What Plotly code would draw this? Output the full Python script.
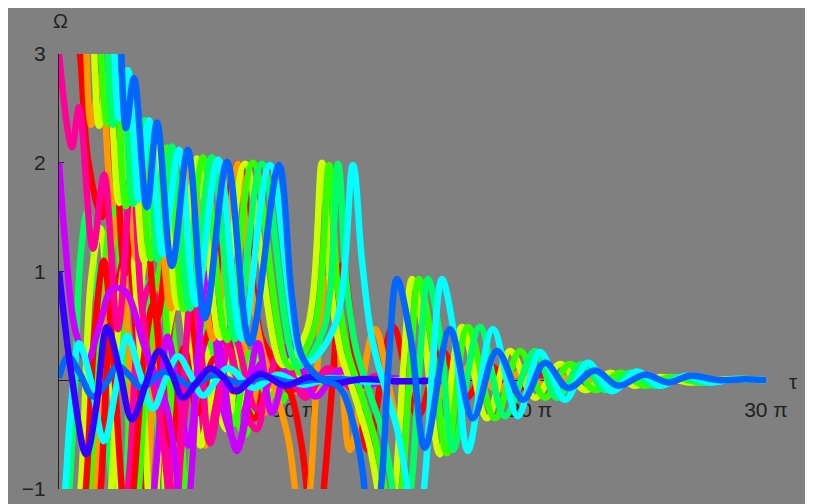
import plotly.graph_objects as go

# tau values are in units of pi; Omega in plain units
blue_a_tau = [1.95, 2.16, 2.46, 2.84, 3.18, 3.73, 4.16, 4.79, 5.47, 6.19, 7.13, 8.10, 9.33, 9.89, 10.35, 11.07, 11.92, 12.43, 12.86, 13.28, 13.70, 14.0, 14.34, 14.93, 15.53, 16.59, 17.56, 18.58, 19.69, 20.62, 21.6, 22.74, 23.72, 24.86, 25.84, 26.77, 28.04, 29.1, 30.0]
blue_a_om = [4.86, 3.21, 3.76, 2.32, 2.78, 1.59, 2.37, 1.05, 2.12, 0.57, 2.01, 0.34, 1.98, 0.75, 0.2, 0.02, -0.07, -0.35, -0.8, -1.63, -0.9, 0.2, 0.93, 0.38, -0.62, 0.47, -0.35, 0.27, -0.18, 0.16, -0.07, 0.09, -0.05, 0.05, -0.02, 0.04, 0.0, 0.01, 0.0]

cyan_a_tau = [1.65, 1.91, 2.16, 2.55, 2.93, 3.39, 3.82, 4.41, 5.09, 5.81, 6.75, 7.76, 8.95, 10.44, 11.7, 12.47, 12.85, 13.28, 13.83, 14.34, 14.72, 15.1, 15.53, 15.87, 16.25, 16.8, 17.35, 18.41, 19.47, 20.41, 21.47, 22.44, 23.46, 24.52, 25.5, 26.56, 27.62, 28.68, 30.0]
cyan_a_om = [4.58, 3.31, 3.67, 2.41, 2.85, 1.66, 2.39, 1.16, 2.12, 0.70, 2.03, 0.38, 1.98, 0.16, 0.5, 1.98, 1.11, 0.38, -0.07, -0.44, -0.9, -1.63, -0.9, 0.2, 0.93, 0.38, -0.65, 0.47, -0.33, 0.26, -0.18, 0.16, -0.1, 0.08, -0.05, 0.04, -0.02, 0.01, 0.0]

spring_a_tau = [1.40, 1.65, 1.91, 2.29, 2.67, 3.14, 3.65, 4.20, 4.79, 5.56, 6.49, 7.47, 8.61, 10.14, 11.2, 11.84, 12.18, 12.6, 13.19, 13.79, 14.21, 14.55, 14.98, 15.32, 15.66, 16.21, 16.72, 17.86, 18.92, 20.2, 21.13, 22.19, 23.17, 24.23, 25.29, 26.35, 27.41, 28.68, 30.0]
spring_a_om = [4.40, 3.12, 3.58, 2.35, 2.80, 1.62, 2.39, 1.11, 2.15, 0.66, 2.05, 0.38, 1.99, 0.13, 0.45, 1.99, 0.93, 0.29, -0.12, -0.53, -1.08, -1.63, -0.9, 0.2, 0.93, 0.34, -0.64, 0.49, -0.33, 0.27, -0.16, 0.15, -0.09, 0.07, -0.05, 0.03, -0.02, 0.01, 0.0]

green_a_tau = [1.06, 1.27, 1.57, 2.04, 2.38, 2.84, 3.35, 3.90, 4.58, 5.30, 6.11, 7.13, 8.23, 9.80, 10.8, 11.46, 11.79, 12.22, 12.86, 13.45, 13.87, 14.21, 14.59, 14.93, 15.27, 15.83, 16.46, 17.35, 18.5, 19.56, 20.62, 21.68, 22.74, 23.8, 24.86, 25.92, 27.2, 28.68, 30.0]
green_a_om = [4.3, 3.1, 3.55, 2.36, 2.79, 1.6, 2.40, 1.12, 2.14, 0.65, 2.05, 0.37, 2.0, 0.12, 0.45, 1.98, 0.93, 0.29, -0.15, -0.58, -1.08, -1.63, -0.9, 0.2, 0.93, 0.34, -0.67, 0.49, -0.35, 0.27, -0.16, 0.15, -0.09, 0.07, -0.05, 0.03, -0.02, 0.01, 0.0]

yg_a_tau = [0.76, 1.02, 1.32, 1.70, 2.08, 2.55, 3.05, 3.61, 4.29, 5.05, 5.85, 6.83, 7.89, 9.50, 10.5, 11.16, 11.50, 11.92, 12.56, 13.15, 13.58, 13.92, 14.30, 14.64, 14.98, 15.53, 16.16, 17.10, 18.16, 19.13, 20.2, 21.26, 22.32, 23.38, 24.44, 25.5, 26.77, 28.47, 30.0]
yg_a_om = [4.45, 3.14, 3.6, 2.34, 2.81, 1.63, 2.38, 1.1, 2.16, 0.67, 2.04, 0.39, 1.99, 0.14, 0.45, 2.0, 0.93, 0.29, -0.15, -0.58, -1.08, -1.63, -0.9, 0.2, 0.93, 0.34, -0.68, 0.49, -0.35, 0.27, -0.16, 0.15, -0.09, 0.07, -0.05, 0.03, -0.02, 0.01, 0.0]

orange_a_tau = [0.47, 0.72, 1.02, 1.36, 1.78, 2.25, 2.76, 3.31, 3.99, 4.75, 5.56, 6.53, 7.59, 8.10, 8.61, 9.21, 9.72, 10.06, 10.35, 10.69, 10.99, 11.33, 11.88, 12.35, 13.41, 14.43, 15.49, 16.5, 17.52, 18.58, 19.56, 20.62, 21.68, 22.95, 24.65, 26.77]
orange_a_om = [4.4, 3.1, 3.57, 2.35, 2.8, 1.62, 2.39, 1.11, 2.15, 0.66, 2.05, 0.38, 1.99, 0.93, 0.29, -0.12, -0.53, -1.08, -1.63, -0.9, 0.2, 0.93, 0.34, -0.64, 0.47, -0.35, 0.27, -0.18, 0.15, -0.09, 0.07, -0.05, 0.03, -0.02, 0.01, 0.0]

red_a_tau = [0.04, 0.47, 0.89, 1.23, 1.82, 2.29, 2.80, 3.44, 4.16, 5.05, 6.11, 7.59, 8.61, 9.38, 9.89, 10.31, 10.65, 10.9, 11.2, 11.62, 12.05, 12.56, 13.11, 14.17, 15.23, 16.25, 17.27, 18.29, 19.35, 20.41, 21.47, 22.74, 24.65, 27.2]
red_a_om = [4.86, 3.67, 3.0, 2.03, 1.50, 2.39, 0.98, 2.15, 0.57, 2.05, 0.34, 1.99, 0.38, 0.11, -0.16, -0.62, -1.26, -1.63, -1.08, 0.02, 1.07, 0.2, -0.64, 0.49, -0.33, 0.27, -0.16, 0.13, -0.09, 0.05, -0.04, 0.02, -0.01, 0.0]

pink_tau = [0, 0.55, 0.85, 1.44, 1.91, 2.50, 3.10, 3.48, 3.86, 4.29, 4.58, 4.79, 5.05, 5.35, 5.64, 5.98, 6.41, 7.38, 8.4, 9.42, 10.44, 11.41, 12.43, 13.45, 14.47, 15.74]
pink_om = [3.0, 2.14, 2.51, 1.21, 1.89, 0.47, 1.95, 0.75, 0.11, -0.35, -0.9, -1.63, -0.9, 0.2, 0.84, 0.38, -0.58, 0.43, -0.27, 0.25, -0.16, 0.11, -0.07, 0.04, -0.02, 0.0]

purple_tau = [0, 0.25, 0.68, 1.19, 1.74, 2.25, 2.80, 3.65, 4.58, 4.96, 5.30, 5.64, 5.98, 6.32, 6.75, 7.55, 8.44, 9.04, 9.93, 10.86, 11.92, 12.98, 14.04, 15.32, 16.59]
purple_om = [2.0, 1.30, 0.47, 0.18, 0.52, 0.84, 0.82, 0.29, -0.26, -0.8, -1.63, -0.8, 0.47, 0.98, 0.47, -0.65, 0.34, -0.30, 0.34, -0.15, 0.09, -0.05, 0.02, -0.01, 0.0]

violet_tau = [0, 0.55, 1.15, 1.57, 2.04, 2.55, 3.10, 3.69, 4.24, 4.79, 5.26, 5.81, 6.41, 6.92, 7.51, 8.53, 9.59, 10.65, 11.71, 12.77, 14.47, 16.16]
violet_om = [1.0, 0.02, -0.68, -0.26, 0.49, 0.11, -0.36, -0.03, 0.27, 0.06, -0.16, -0.03, 0.11, 0.04, -0.1, 0.06, -0.05, 0.03, -0.03, 0.01, -0.01, 0.0]

blue0_tau = [0, 0.38, 0.89, 1.44, 2.0, 2.46, 3.01, 3.48, 4.07, 4.5, 5.05, 5.56, 6.62, 7.68, 8.74, 9.80, 11.07, 12.77]
blue0_om = [0.02, 0.22, 0.06, -0.15, -0.03, 0.13, 0.04, -0.07, 0.02, 0.08, 0.02, -0.05, 0.05, -0.03, 0.03, -0.02, 0.01, 0.0]

cyan0_tau = [0, 0.08, 0.21, 0.47, 0.85, 1.32, 1.91, 2.42, 2.89, 3.44, 3.99, 4.54, 5.05, 5.60, 6.11, 7.17, 8.23, 9.29, 10.35, 11.5, 12.77, 14.47]
cyan0_om = [-1.0, -1.26, -1.12, -0.35, 0.34, 0.02, -0.56, -0.07, 0.41, 0.06, -0.26, 0.02, 0.22, 0.04, -0.14, 0.11, -0.07, 0.05, -0.04, 0.02, -0.01, 0.0]

yg_b_tau = [0.55, 0.95, 1.35, 1.75, 2.15, 2.5, 2.75, 3.0, 3.35, 3.75, 4.15, 4.5, 4.75, 5.0, 5.4, 5.9, 6.5, 7.1, 7.7, 8.3, 9.0, 9.7, 10.5, 11.5]
yg_b_om = [-1.8, -0.9, 0.9, 1.4, 0.3, -0.9, -1.7, -0.9, 0.6, 1.2, 0.2, -0.9, -1.6, -0.8, 0.3, 0.6, 0.0, -0.45, 0.35, -0.2, 0.15, -0.08, 0.04, 0.0]

green_b_tau = [1.0, 1.4, 1.8, 2.3, 2.7, 3.05, 3.3, 3.6, 4.0, 4.4, 4.8, 5.2, 5.45, 5.7, 6.1, 6.6, 7.2, 7.9, 8.6, 9.4, 10.2, 11.0, 12.0]
green_b_om = [-1.7, -0.8, 0.7, 1.6, 0.7, -0.8, -1.7, -0.7, 0.5, 1.1, 0.5, -0.5, -1.3, -0.6, 0.4, 0.7, -0.1, -0.5, 0.3, -0.2, 0.1, -0.05, 0.0]

orange_b_tau = [1.3, 1.7, 2.1, 2.5, 2.9, 3.25, 3.5, 3.8, 4.2, 4.6, 5.0, 5.5, 5.9, 6.2, 6.5, 7.0, 7.5, 8.1, 8.7, 9.4, 10.1, 11.0, 12.0]
orange_b_om = [-1.7, -0.6, 1.0, 1.5, 0.5, -0.9, -1.7, -0.8, 0.5, 1.3, 0.9, 0.5, 0.0, -0.6, -0.1, 0.3, 0.5, 0.1, -0.3, 0.15, -0.1, 0.05, 0.0]

red_b_tau = [1.5, 1.8, 2.1, 2.5, 2.9, 3.3, 3.6, 3.9, 4.3, 4.8, 5.3, 5.8, 6.2, 6.6, 7.1, 7.7, 8.3, 9.0, 9.8, 10.5, 11.5]
red_b_om = [-1.7, -0.9, 0.3, 0.9, 1.2, 0.3, -0.8, -1.6, -0.6, 0.6, 1.0, 0.3, -0.5, -0.2, 0.4, -0.1, -0.35, 0.2, -0.1, 0.05, 0.0]

pink_b_tau = [2.6, 3.0, 3.4, 3.9, 4.3, 4.65, 4.9, 5.2, 5.7, 6.2, 6.7, 7.2, 7.8, 8.4, 9.0, 9.7, 10.4, 11.2, 12.0]
pink_b_om = [-1.7, -0.8, 0.5, 0.9, 0.3, -0.6, -1.5, -0.6, 0.2, -0.5, -0.2, 0.3, -0.25, -0.45, 0.2, 0.3, -0.1, 0.05, 0.0]

spring_b_tau = [0.3, 0.65, 0.9, 1.2, 1.6, 2.0, 2.35, 2.6, 2.85, 3.2, 3.6, 4.0, 4.3, 4.6, 4.9, 5.3, 5.8, 6.2, 6.7, 7.2, 7.8, 8.5, 9.3, 10.2, 11.0]
spring_b_om = [-1.5, -0.2, 1.1, 1.55, 0.8, -0.4, -1.2, -1.7, -0.9, 0.4, 0.9, 0.2, -0.8, -1.6, -0.7, 0.2, 0.0, -0.5, 0.35, 0.6, -0.1, -0.3, 0.15, -0.05, 0.0]

yg_c_tau = [2.0, 2.3, 2.6, 3.0, 3.4, 3.7, 3.95, 4.2, 4.6, 5.1, 5.6, 6.0, 6.4, 6.9, 7.5, 8.2, 9.0, 9.9, 11.0]
yg_c_om = [-1.7, -0.7, 0.8, 1.3, 0.4, -0.7, -1.6, -0.8, 0.4, 0.8, 0.1, -0.6, -0.2, 0.3, -0.3, 0.2, -0.1, 0.05, 0.0]

green_c_tau = [3.2, 3.5, 3.9, 4.3, 4.7, 5.0, 5.3, 5.7, 6.2, 6.8, 7.4, 8.1, 8.9, 9.8, 10.8]
green_c_om = [-1.7, -0.6, 0.7, 1.0, 0.0, -0.9, -1.6, -0.5, 0.4, 0.1, -0.4, 0.25, -0.15, 0.08, 0.0]

red_c_tau = [0.9, 1.2, 1.5, 1.9, 2.3, 2.6, 2.9, 3.2, 3.6, 4.0, 4.4, 4.8, 5.3, 5.9, 6.6, 7.4, 8.3, 9.3]
red_c_om = [-1.7, -0.8, 0.4, 1.1, 0.2, -0.8, -1.6, -0.9, 0.2, 0.7, -0.1, -0.6, 0.3, -0.3, 0.2, -0.1, 0.05, 0.0]

purple_b_tau = [3.8, 4.2, 4.6, 5.0, 5.5, 6.0, 6.5, 7.0, 7.6, 8.4, 9.2, 10.0, 11.0]
purple_b_om = [-1.6, -0.6, 0.4, 0.0, -0.6, 0.2, 0.5, -0.3, -0.6, 0.1, 0.25, -0.05, 0.0]

x_tick_vals = [10, 20, 30]
x_tick_text = ["10 \u03c0", "20 \u03c0", "30 \u03c0"]
y_tick_vals = [-1, 1, 2, 3]
y_tick_text = ["\u22121", "1", "2", "3"]

RED, ORANGE, YG, GREEN = "#FF0000", "#FF9900", "#CCFF00", "#33FF00"
SPRING, CYAN, BLUE, VIOLET = "#00FF66", "#00FFFF", "#0066FF", "#3300FF"
PURPLE, PINK = "#CC00FF", "#FF0099"

curves = [
    (spring_b_tau, spring_b_om, SPRING),
    (yg_b_tau, yg_b_om, YG),
    (green_b_tau, green_b_om, GREEN),
    (orange_b_tau, orange_b_om, ORANGE),
    (red_b_tau, red_b_om, RED),
    (pink_b_tau, pink_b_om, PINK),
    (yg_c_tau, yg_c_om, YG),
    (green_c_tau, green_c_om, GREEN),
    (red_c_tau, red_c_om, RED),
    (purple_b_tau, purple_b_om, PURPLE),
    (red_a_tau, red_a_om, RED),
    (orange_a_tau, orange_a_om, ORANGE),
    (pink_tau, pink_om, PINK),
    (purple_tau, purple_om, PURPLE),
    (yg_a_tau, yg_a_om, YG),
    (green_a_tau, green_a_om, GREEN),
    (spring_a_tau, spring_a_om, SPRING),
    (cyan0_tau, cyan0_om, CYAN),
    (blue0_tau, blue0_om, BLUE),
    (violet_tau, violet_om, VIOLET),
    (cyan_a_tau, cyan_a_om, CYAN),
    (blue_a_tau, blue_a_om, BLUE),
]

fig = go.Figure()
for tx, oy, col in curves:
    fig.add_trace(go.Scatter(
        x=tx, y=oy, mode="lines",
        line=dict(color=col, width=6.5, shape="spline", smoothing=1.0),
        showlegend=False, hoverinfo="skip",
    ))

FONT = "Liberation Sans, Arial, sans-serif"
INK = "#222222"
OFF = 8  # page body margin of the html page
W, H = 813, 504
L, T = 59 - OFF, 54 - OFF
R = W - (766 - OFF)
B = H - (492 - OFF)
pw, ph = W - L - R, H - T - B


def px_x(sx):
    return (sx - OFF - L) / pw


def px_y(sy):
    return (H - B - (sy - OFF)) / ph


fig.update_layout(
    width=W, height=H,
    margin=dict(l=L, r=R, t=T, b=B, pad=0),
    paper_bgcolor="#808080", plot_bgcolor="#808080",
    xaxis=dict(range=[0, 30], showgrid=False, zeroline=False,
               anchor="free", position=0.25,
               showline=True, linecolor=INK, linewidth=1,
               ticks="inside", ticklen=5, tickcolor=INK,
               tickvals=x_tick_vals, ticktext=x_tick_text,
               tickfont=dict(family=FONT, size=21, color=INK),
               ticklabelstandoff=11,
               layer="below traces"),
    yaxis=dict(range=[-1, 3], showgrid=False, zeroline=False,
               showline=True, linecolor=INK, linewidth=1,
               ticks="inside", ticklen=5, tickcolor=INK,
               tickvals=y_tick_vals, ticktext=y_tick_text,
               tickfont=dict(family=FONT, size=21, color=INK),
               ticklabelstandoff=8,
               layer="below traces"),
    annotations=[
        dict(text="\u03a9", xref="paper", yref="paper",
             x=px_x(60), y=px_y(21), xanchor="center", yanchor="middle",
             showarrow=False, font=dict(family=FONT, size=20, color=INK)),
        dict(text="\u03c4", xref="paper", yref="paper",
             x=px_x(793), y=px_y(384), xanchor="center", yanchor="middle",
             showarrow=False, font=dict(family=FONT, size=21, color=INK)),
    ],
)

fig.write_html("out.html")
